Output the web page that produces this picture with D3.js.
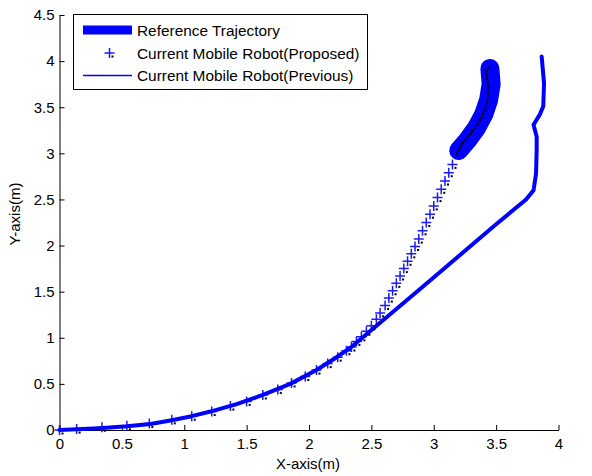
<!DOCTYPE html>
<html>
<head>
<meta charset="utf-8">
<script src="https://cdn.jsdelivr.net/npm/d3@7"></script>
<style>
  body { margin: 0; background: #fff; }
  svg text { font-family: "Liberation Sans", Arial, Helvetica, sans-serif; font-size: 15px; fill: #000; }
  svg .legend text { font-size: 15.4px; }
</style>
</head>
<body>
<svg id="chart" width="592" height="476"></svg>
<script>
// tick values
const xTicks = [0, 0.5, 1, 1.5, 2, 2.5, 3, 3.5, 4];
const yTicks = [0, 0.5, 1, 1.5, 2, 2.5, 3, 3.5, 4, 4.5];

// reference trajectory (thick band at the end of the path)
const referencePts = [[3.20, 3.03], [3.27, 3.14], [3.34, 3.27], [3.40, 3.42], [3.44, 3.58], [3.46, 3.75], [3.45, 3.92]];

// proposed controller: '+' markers
const proposedPts = [
  [0, 0], [0.137, 0.01], [0.34, 0.03], [0.54, 0.045], [0.72, 0.07], [0.90, 0.11], [1.06, 0.15],
  [1.22, 0.20], [1.37, 0.26], [1.50, 0.31], [1.63, 0.38], [1.75, 0.44], [1.86, 0.51], [1.97, 0.58],
  [2.06, 0.65], [2.15, 0.72], [2.23, 0.79], [2.30, 0.86],
  [2.34, 0.90], [2.38, 0.96], [2.42, 1.01], [2.46, 1.07], [2.50, 1.13], [2.54, 1.20], [2.57, 1.27],
  [2.61, 1.35], [2.64, 1.43], [2.67, 1.51], [2.70, 1.59], [2.73, 1.67], [2.76, 1.75], [2.79, 1.83],
  [2.82, 1.91], [2.85, 1.99], [2.88, 2.07], [2.91, 2.16], [2.94, 2.25], [2.97, 2.34], [3.00, 2.43],
  [3.03, 2.52], [3.06, 2.61], [3.09, 2.70], [3.12, 2.79], [3.15, 2.88]
];
// proposed controller: dense black trace inside the band
const proposedTail = [[3.18, 2.98], [3.22, 3.09], [3.28, 3.19], [3.34, 3.29], [3.38, 3.38], [3.41, 3.47], [3.43, 3.58], [3.44, 3.69], [3.43, 3.80], [3.42, 3.89], [3.46, 3.95]];

// previous controller
const previousPts = [
  [0, 0], [0.32, 0.02], [0.54, 0.04], [0.73, 0.065], [0.90, 0.105], [1.06, 0.15], [1.21, 0.20],
  [1.42, 0.28], [1.63, 0.38], [1.85, 0.50], [2.06, 0.65], [2.20, 0.77], [2.33, 0.89],
  [2.90, 1.54], [3.50, 2.23], [3.74, 2.50], [3.80, 2.60], [3.82, 2.78], [3.825, 3.04], [3.825, 3.18],
  [3.80, 3.31], [3.85, 3.42], [3.878, 3.51], [3.884, 3.76], [3.865, 4.05]
];

const legendLabels = ["Reference Trajectory", "Current Mobile Robot(Proposed)", "Current Mobile Robot(Previous)"];

const svg = d3.select("#chart");
const x = d3.scaleLinear().domain([0, 4]).range([59.5, 558.5]);
const y = d3.scaleLinear().domain([0, 4.5]).range([430, 15]);
const BLUE = "#0000ff";

const line = d3.line().x(d => x(d[0])).y(d => y(d[1]));

// axes (box off, ticks inward)
const xAxis = svg.append("g").attr("transform", "translate(0,430)")
  .call(d3.axisBottom(x).tickValues(xTicks).tickFormat(d3.format("~g")).tickSize(-5).tickSizeOuter(0).tickPadding(8));
const yAxis = svg.append("g").attr("transform", "translate(59.5,0)")
  .call(d3.axisLeft(y).tickValues(yTicks).tickFormat(d3.format("~g")).tickSize(-5).tickSizeOuter(0).tickPadding(5));
[xAxis, yAxis].forEach(g => {
  g.attr("font-size", null).attr("font-family", null);
  g.selectAll("path, line").attr("stroke", "#000");
});

svg.append("text").attr("x", 308).attr("y", 469).attr("text-anchor", "middle").text("X-axis(m)");
svg.append("text").attr("transform", "translate(20,214) rotate(-90)").attr("text-anchor", "middle").text("Y-axis(m)");

// proposed '+' markers
function drawCross(g, cx, cy) {
  g.append("path").attr("d", `M${cx - 5},${cy}H${cx + 5}M${cx},${cy - 5}V${cy + 5}`)
    .attr("stroke", "#1a1aff").attr("stroke-width", 1.5).attr("fill", "none");
}
const crosses = svg.append("g");
proposedPts.forEach(d => drawCross(crosses, x(d[0]), y(d[1])));

// reference trajectory
svg.append("path").datum(referencePts).attr("d", line)
  .attr("fill", "none").attr("stroke", BLUE).attr("stroke-width", 19)
  .attr("stroke-linecap", "round").attr("stroke-linejoin", "round");

// previous controller
svg.append("path").datum(previousPts).attr("d", line)
  .attr("fill", "none").attr("stroke", BLUE).attr("stroke-width", 4)
  .attr("stroke-linecap", "round").attr("stroke-linejoin", "round");

// black dots of the proposed markers
svg.append("g").selectAll("rect").data(proposedPts).join("rect")
  .attr("x", d => x(d[0]) + 2).attr("y", d => y(d[1]) + 2.5).attr("width", 2).attr("height", 2).attr("fill", "#000");
svg.append("path").datum(proposedTail).attr("d", line)
  .attr("fill", "none").attr("stroke", "#000").attr("stroke-width", 2).attr("stroke-dasharray", "3,1");

// legend
const lg = svg.append("g").attr("class", "legend");
lg.append("rect").attr("x", 73.5).attr("y", 14.5).attr("width", 294).attr("height", 75)
  .attr("fill", "#fff").attr("stroke", "#000").attr("stroke-width", 1);
const rows = [30, 53, 75.5];
lg.append("rect").attr("x", 83).attr("y", rows[0] - 4.5).attr("width", 49).attr("height", 9).attr("fill", BLUE);
drawCross(lg, 109.5, rows[1]);
lg.append("rect").attr("x", 111.5).attr("y", rows[1] + 2.5).attr("width", 2).attr("height", 2).attr("fill", "#000");
lg.append("line").attr("x1", 83).attr("x2", 132).attr("y1", rows[2]).attr("y2", rows[2]).attr("stroke", BLUE).attr("stroke-width", 1.3);
legendLabels.forEach((t, i) => {
  lg.append("text").attr("x", 137).attr("y", rows[i] + 5.5).text(t);
});
</script>
</body>
</html>
